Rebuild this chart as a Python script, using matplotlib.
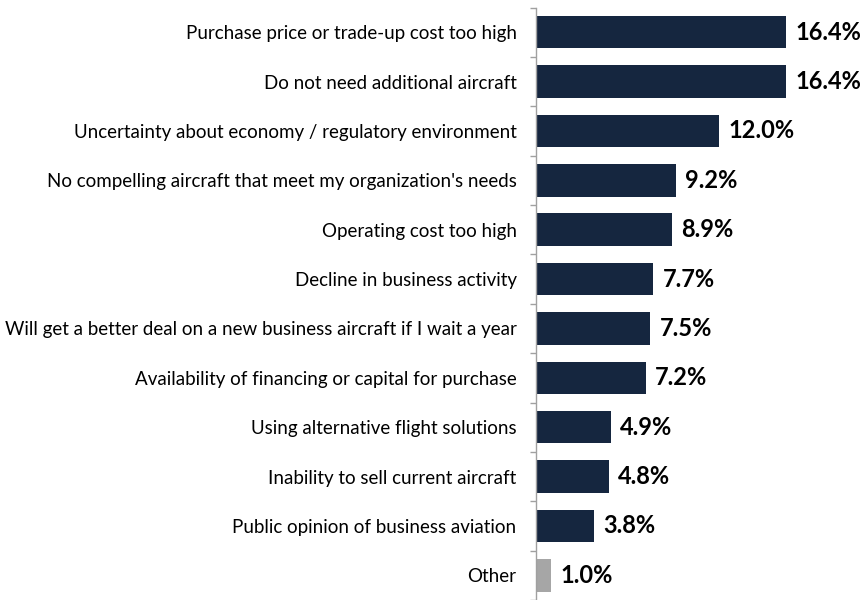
import matplotlib.pyplot as plt
import numpy as np

# data
categories = [
    "Purchase price or trade-up cost too high",
    "Do not need additional aircraft",
    "Uncertainty about economy / regulatory environment",
    "No compelling aircraft that meet my organization's needs",
    "Operating cost too high",
    "Decline in business activity",
    "Will get a better deal on a new business aircraft if I wait a year",
    "Availability of financing or capital for purchase",
    "Using alternative flight solutions",
    "Inability to sell current aircraft",
    "Public opinion of business aviation",
    "Other",
]
values = [16.4, 16.4, 12.0, 9.2, 8.9, 7.7, 7.5, 7.2, 4.9, 4.8, 3.8, 1.0]
colors = ["#15263f"] * 11 + ["#a6a6a6"]

plt.rcParams['font.family'] = ['Lato', 'DejaVu Sans']

fig = plt.figure(figsize=(8.62, 6.0), dpi=100)
W, H = 862, 600
left, right, top, bottom = 536, 850, 7.5, 600
ax = fig.add_axes([left / W, 1 - bottom / H, (right - left) / W, (bottom - top) / H])

y = np.arange(len(categories))
ax.barh(y, values, height=0.66, color=colors)

for yi, v in zip(y, values):
    ax.text(v + 0.6, yi, f"{v:.1f}%", va="center", ha="left",
            fontsize=17, fontweight="bold", color="black")

px_per_unit = 15.24
ax.set_xlim(0, (right - left) / px_per_unit)
spacing = 49.8
ax.set_ylim((bottom - 32.5) / spacing, -0.5)

ax.set_yticks(y)
ax.set_yticklabels(categories, fontsize=13.5)
ax.tick_params(axis="y", which="major", length=0, pad=14)
ax.set_yticks(np.arange(-0.5, len(categories), 1), minor=True)
ax.tick_params(axis="y", which="minor", length=4, color="#a0a0a0", width=1)
ax.set_xticks([])

for s in ["top", "right", "bottom"]:
    ax.spines[s].set_visible(False)
ax.spines["left"].set_color("#a0a0a0")
ax.spines["left"].set_linewidth(1)

fig.savefig("out.png", dpi=100)
